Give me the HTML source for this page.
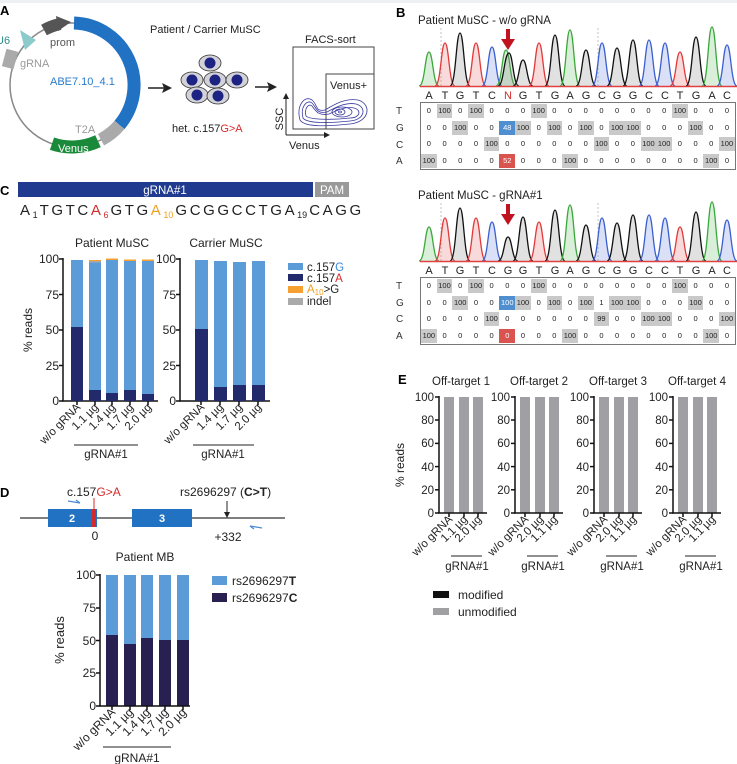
<!DOCTYPE html>
<html><head><meta charset="utf-8"><style>
body{margin:0;background:#fff;}
#w{position:relative;width:737px;height:764px;overflow:hidden;font-family:"Liberation Sans",Arial,sans-serif;background:#fff}
svg{position:absolute;left:0;top:0}
.tb{position:absolute;left:420px;width:314px;border:1px solid #777;display:grid;grid-template-columns:repeat(20,15.7px);grid-auto-rows:16.5px;font-size:7.5px;color:#222;align-items:center;justify-items:center}
.tb i{font-style:normal;width:15.7px;height:14px;line-height:14px;text-align:center}
.tb i.g{background:#c9c9c9}.tb i.b{background:#4f8fd0;color:#fff}.tb i.r{background:#d9534f;color:#fff}
</style></head><body><div id="w">
<svg width="737" height="764" viewBox="0 0 737 764" font-family="Liberation Sans, Arial, sans-serif">
<rect x="0" y="0" width="737" height="3" fill="#eef0f4"/>
<!-- Panel A -->
<text x="0" y="15" font-size="13" font-weight="bold">A</text>
<circle cx="72" cy="85" r="62" fill="none" stroke="#888" stroke-width="1.5"/>
<path d="M74 23 A62 62 0 0 1 119.5 124.9" fill="none" stroke="#2272c3" stroke-width="13"/>
<path d="M119.5 124.9 A62 62 0 0 1 101 139.7" fill="none" stroke="#aaa" stroke-width="13"/>
<path d="M98 141.2 A62 62 0 0 1 52 143.7" fill="none" stroke="#1a8a3a" stroke-width="13"/>
<text x="58" y="152" font-size="11" fill="#fff">Venus</text>
<path d="M44 30 A62 62 0 0 1 60 24" fill="none" stroke="#555" stroke-width="12"/>
<polygon points="56,16 71,22 58,31" fill="#555"/>
<polygon points="20,30 36,40 25,50" fill="#8ccacb"/>
<rect x="4" y="50" width="12" height="18" fill="#aaa" transform="rotate(15 10 59)"/>
<text x="-4" y="44" font-size="11" fill="#2a8a8a">U6</text>
<text x="50" y="46" font-size="11" fill="#555">prom</text>
<text x="20" y="67" font-size="11" fill="#999">gRNA</text>
<text x="50" y="85" font-size="11" fill="#2a7ac8">ABE7.10_4.1</text>
<text x="75" y="133" font-size="11" fill="#999">T2A</text>
<text x="150" y="33" font-size="11" fill="#222">Patient / Carrier MuSC</text>
<line x1="148" y1="88" x2="166" y2="88" stroke="#222" stroke-width="1.5"/><polygon points="172,88 162,83 164,88 162,93" fill="#222"/>
<g stroke="#333" stroke-width="0.8" fill="#d2d2d8">
<ellipse cx="210" cy="63" rx="11" ry="8"/><ellipse cx="192" cy="80" rx="11" ry="8"/><ellipse cx="215" cy="80" rx="11" ry="8"/><ellipse cx="237" cy="80" rx="11" ry="8"/><ellipse cx="197" cy="95" rx="11" ry="8"/><ellipse cx="218" cy="96" rx="11" ry="8"/></g>
<g fill="#1c2382"><circle cx="210" cy="63" r="5.5"/><circle cx="192" cy="80" r="5.5"/><circle cx="215" cy="80" r="5.5"/><circle cx="237" cy="80" r="5.5"/><circle cx="197" cy="95" r="5.5"/><circle cx="218" cy="96" r="5.5"/></g>
<text x="172" y="132" font-size="11" fill="#222">het. c.157<tspan fill="#d42a2a">G&gt;A</tspan></text>
<line x1="255" y1="87" x2="271" y2="87" stroke="#222" stroke-width="1.5"/><polygon points="277,87 267,82 269,87 267,92" fill="#222"/>
<text x="305" y="43" font-size="11" fill="#222">FACS-sort</text>
<rect x="293" y="47" width="81" height="82" fill="none" stroke="#444" stroke-width="1"/>
<rect x="326" y="74" width="48" height="55" fill="none" stroke="#444" stroke-width="1"/>
<text x="330" y="89" font-size="11" fill="#222">Venus+</text>
<g fill="none" stroke="#3a3aa0" stroke-width="0.8">
<path d="M300 120 C296 105 305 95 312 100 C318 105 315 112 325 110 C335 104 345 98 358 100 C372 104 370 122 350 124 C330 126 305 128 300 120Z"/>
<path d="M303 118 C300 107 307 99 312 103 C317 108 316 114 327 112 C336 107 346 102 356 104 C367 107 365 120 350 121 C332 123 307 124 303 118Z"/>
<path d="M306 116 C304 108 309 103 312 106 C316 111 318 116 329 114 C338 110 346 106 354 108 C362 110 360 118 350 118 C334 120 310 120 306 116Z"/>
<ellipse cx="342" cy="112" rx="10" ry="5"/><ellipse cx="340" cy="112" rx="5" ry="3"/><ellipse cx="340" cy="112" rx="1.5" ry="1"/></g>
<line x1="286" y1="135" x2="286" y2="97" stroke="#222"/><polygon points="286,93 283,99 289,99" fill="#222"/>
<line x1="286" y1="135" x2="326" y2="135" stroke="#222"/><polygon points="330,135 324,132 324,138" fill="#222"/>
<text x="283" y="119" font-size="11" fill="#222" transform="rotate(-90 283 119)" text-anchor="middle">SSC</text>
<text x="289" y="149" font-size="11" fill="#222">Venus</text>

<!-- Panel B -->
<text x="396" y="17" font-size="13" font-weight="bold">B</text>
<text x="418" y="24" font-size="11.5" fill="#222">Patient MuSC - w/o gRNA</text>
<text x="418" y="199" font-size="11.5" fill="#222">Patient MuSC - gRNA#1</text>
<g stroke="#aaa" stroke-dasharray="2,2" stroke-width="0.7"><line x1="441" y1="28" x2="441" y2="86"/><line x1="598" y1="28" x2="598" y2="86"/><line x1="441" y1="203" x2="441" y2="261"/><line x1="598" y1="203" x2="598" y2="261"/></g>
<g stroke-width="1.3">
<g id="c1">
<path d="M419 86 C425 86 425 52 429 52 C433 52 433 86 439 86" fill="#3aa83a30" stroke="#3aa83a"/>
<path d="M435 86 C441 86 441 43 445 43 C449 43 449 86 455 86" fill="#e03a3a30" stroke="#e03a3a"/>
<path d="M450 86 C456 86 456 33 460 33 C464 33 464 86 470 86" fill="#88888840" stroke="#111"/>
<path d="M466 86 C472 86 472 43 476 43 C480 43 480 86 486 86" fill="#e03a3a30" stroke="#e03a3a"/>
<path d="M482 86 C488 86 488 47 492 47 C496 47 496 86 502 86" fill="#3a5fd030" stroke="#3a5fd0"/>
<path d="M496 86 C502 86 502 50 506 50 C510 50 510 86 516 86" fill="#3aa83a30" stroke="#3aa83a"/>
<path d="M498 86 C504 86 504 53 509 53 C513 53 513 86 519 86" fill="#88888840" stroke="#111"/>
<path d="M513 86 C519 86 519 60 523 60 C527 60 527 86 533 86" fill="#88888840" stroke="#111"/>
<path d="M529 86 C535 86 535 43 539 43 C543 43 543 86 549 86" fill="#e03a3a30" stroke="#e03a3a"/>
<path d="M545 86 C551 86 551 35 555 35 C559 35 559 86 565 86" fill="#88888840" stroke="#111"/>
<path d="M560 86 C566 86 566 30 570 30 C574 30 574 86 580 86" fill="#3aa83a30" stroke="#3aa83a"/>
<path d="M576 86 C582 86 582 50 586 50 C590 50 590 86 596 86" fill="#88888840" stroke="#111"/>
<path d="M592 86 C598 86 598 43 602 43 C606 43 606 86 612 86" fill="#3a5fd030" stroke="#3a5fd0"/>
<path d="M607 86 C613 86 613 48 617 48 C621 48 621 86 627 86" fill="#88888840" stroke="#111"/>
<path d="M623 86 C629 86 629 40 633 40 C637 40 637 86 643 86" fill="#88888840" stroke="#111"/>
<path d="M639 86 C645 86 645 40 649 40 C653 40 653 86 659 86" fill="#3a5fd030" stroke="#3a5fd0"/>
<path d="M655 86 C661 86 661 43 665 43 C669 43 669 86 675 86" fill="#3a5fd030" stroke="#3a5fd0"/>
<path d="M670 86 C676 86 676 52 680 52 C684 52 684 86 690 86" fill="#e03a3a30" stroke="#e03a3a"/>
<path d="M686 86 C692 86 692 37 696 37 C700 37 700 86 706 86" fill="#88888840" stroke="#111"/>
<path d="M702 86 C708 86 708 27 712 27 C716 27 716 86 722 86" fill="#3aa83a30" stroke="#3aa83a"/>
<path d="M717 86 C723 86 723 45 727 45 C731 45 731 86 737 86" fill="#3a5fd030" stroke="#3a5fd0"/>
</g>
<g transform="translate(0,175)">
<path d="M419 86 C425 86 425 52 429 52 C433 52 433 86 439 86" fill="#3aa83a30" stroke="#3aa83a"/>
<path d="M435 86 C441 86 441 43 445 43 C449 43 449 86 455 86" fill="#e03a3a30" stroke="#e03a3a"/>
<path d="M450 86 C456 86 456 33 460 33 C464 33 464 86 470 86" fill="#88888840" stroke="#111"/>
<path d="M466 86 C472 86 472 43 476 43 C480 43 480 86 486 86" fill="#e03a3a30" stroke="#e03a3a"/>
<path d="M482 86 C488 86 488 47 492 47 C496 47 496 86 502 86" fill="#3a5fd030" stroke="#3a5fd0"/>
<path d="M498 86 C504 86 504 62 508 62 C512 62 512 86 518 86" fill="#88888840" stroke="#111"/>
<path d="M513 86 C519 86 519 42 523 42 C527 42 527 86 533 86" fill="#88888840" stroke="#111"/>
<path d="M529 86 C535 86 535 47 539 47 C543 47 543 86 549 86" fill="#e03a3a30" stroke="#e03a3a"/>
<path d="M545 86 C551 86 551 35 555 35 C559 35 559 86 565 86" fill="#88888840" stroke="#111"/>
<path d="M560 86 C566 86 566 30 570 30 C574 30 574 86 580 86" fill="#3aa83a30" stroke="#3aa83a"/>
<path d="M576 86 C582 86 582 50 586 50 C590 50 590 86 596 86" fill="#88888840" stroke="#111"/>
<path d="M592 86 C598 86 598 43 602 43 C606 43 606 86 612 86" fill="#3a5fd030" stroke="#3a5fd0"/>
<path d="M607 86 C613 86 613 48 617 48 C621 48 621 86 627 86" fill="#88888840" stroke="#111"/>
<path d="M623 86 C629 86 629 40 633 40 C637 40 637 86 643 86" fill="#88888840" stroke="#111"/>
<path d="M639 86 C645 86 645 40 649 40 C653 40 653 86 659 86" fill="#3a5fd030" stroke="#3a5fd0"/>
<path d="M655 86 C661 86 661 43 665 43 C669 43 669 86 675 86" fill="#3a5fd030" stroke="#3a5fd0"/>
<path d="M670 86 C676 86 676 52 680 52 C684 52 684 86 690 86" fill="#e03a3a30" stroke="#e03a3a"/>
<path d="M686 86 C692 86 692 37 696 37 C700 37 700 86 706 86" fill="#88888840" stroke="#111"/>
<path d="M702 86 C708 86 708 27 712 27 C716 27 716 86 722 86" fill="#3aa83a30" stroke="#3aa83a"/>
<path d="M717 86 C723 86 723 45 727 45 C731 45 731 86 737 86" fill="#3a5fd030" stroke="#3a5fd0"/>
</g></g>
<line x1="420" y1="86.5" x2="737" y2="86.5" stroke="#e04040" stroke-width="1.5"/>
<line x1="420" y1="261.5" x2="737" y2="261.5" stroke="#e04040" stroke-width="1.5"/>
<g fill="#c0121f"><rect x="506" y="29" width="4" height="12"/><polygon points="501,39 515,39 508,50"/><rect x="506" y="204" width="4" height="12"/><polygon points="501,214 515,214 508,225"/></g>
<g font-size="11" fill="#222" text-anchor="middle">
<text y="99"><tspan x="429">A</tspan><tspan x="445">T</tspan><tspan x="460">G</tspan><tspan x="476">T</tspan><tspan x="492">C</tspan><tspan x="508" fill="#d42a2a">N</tspan><tspan x="523">G</tspan><tspan x="539">T</tspan><tspan x="555">G</tspan><tspan x="570">A</tspan><tspan x="586">G</tspan><tspan x="602">C</tspan><tspan x="617">G</tspan><tspan x="633">G</tspan><tspan x="649">C</tspan><tspan x="665">C</tspan><tspan x="680">T</tspan><tspan x="696">G</tspan><tspan x="712">A</tspan><tspan x="727">C</tspan></text>
<text y="274"><tspan x="429">A</tspan><tspan x="445">T</tspan><tspan x="460">G</tspan><tspan x="476">T</tspan><tspan x="492">C</tspan><tspan x="508">G</tspan><tspan x="523">G</tspan><tspan x="539">T</tspan><tspan x="555">G</tspan><tspan x="570">A</tspan><tspan x="586">G</tspan><tspan x="602">C</tspan><tspan x="617">G</tspan><tspan x="633">G</tspan><tspan x="649">C</tspan><tspan x="665">C</tspan><tspan x="680">T</tspan><tspan x="696">G</tspan><tspan x="712">A</tspan><tspan x="727">C</tspan></text>
</g>
<g font-size="10" fill="#333"><text x="396" y="114">T</text><text x="396" y="131">G</text><text x="396" y="148">C</text><text x="396" y="164">A</text>
<text x="396" y="289">T</text><text x="396" y="306">G</text><text x="396" y="322">C</text><text x="396" y="339">A</text></g>

<!-- Panel C -->
<text x="0" y="195" font-size="13" font-weight="bold">C</text>
<rect x="18" y="182" width="295" height="15" fill="#1f3a8f"/>
<text x="165" y="194" font-size="11.5" fill="#fff" text-anchor="middle">gRNA#1</text>
<rect x="315" y="182" width="34" height="15" fill="#999"/>
<text x="332" y="194" font-size="11.5" fill="#fff" text-anchor="middle">PAM</text>
<text x="20" y="215" font-size="15" fill="#222" letter-spacing="2.6">A<tspan font-size="9" dy="3" letter-spacing="0">1</tspan><tspan dy="-3" dx="2">TGTC</tspan><tspan fill="#d42a2a">A</tspan><tspan fill="#d42a2a" font-size="9" dy="3" letter-spacing="0">6</tspan><tspan dy="-3" dx="2">GTG</tspan><tspan fill="#f0a020">A</tspan><tspan fill="#f0a020" font-size="9" dy="3" letter-spacing="0">10</tspan><tspan dy="-3" dx="2">GCGGCCTG</tspan>A<tspan font-size="9" dy="3" letter-spacing="0">19</tspan><tspan dy="-3" dx="2">CAGG</tspan></text>
<text x="112" y="247" font-size="12" fill="#222" text-anchor="middle">Patient MuSC</text>
<text x="226" y="247" font-size="12" fill="#222" text-anchor="middle">Carrier MuSC</text>
<text x="32" y="330" font-size="12" fill="#222" text-anchor="middle" transform="rotate(-90 32 330)">% reads</text>
<g font-size="12" fill="#222" text-anchor="end">
<text x="59" y="263">100</text><text x="59" y="299">75</text><text x="59" y="334">50</text><text x="59" y="370">25</text><text x="59" y="405">0</text>
<text x="176" y="263">100</text><text x="176" y="299">75</text><text x="176" y="334">50</text><text x="176" y="370">25</text><text x="176" y="405">0</text></g>
<g stroke="#111" stroke-width="1.5">
<line x1="63" y1="258" x2="63" y2="401"/><line x1="62" y1="401" x2="158" y2="401"/>
<line x1="59" y1="259" x2="63" y2="259"/><line x1="59" y1="294.5" x2="63" y2="294.5"/><line x1="59" y1="330" x2="63" y2="330"/><line x1="59" y1="365.5" x2="63" y2="365.5"/><line x1="59" y1="401" x2="63" y2="401"/>
<line x1="180" y1="258" x2="180" y2="401"/><line x1="179" y1="401" x2="270" y2="401"/>
<line x1="176" y1="259" x2="180" y2="259"/><line x1="176" y1="294.5" x2="180" y2="294.5"/><line x1="176" y1="330" x2="180" y2="330"/><line x1="176" y1="365.5" x2="180" y2="365.5"/><line x1="176" y1="401" x2="180" y2="401"/>
<line x1="77" y1="401" x2="77" y2="405"/><line x1="95" y1="401" x2="95" y2="405"/><line x1="112" y1="401" x2="112" y2="405"/><line x1="130" y1="401" x2="130" y2="405"/><line x1="148" y1="401" x2="148" y2="405"/>
<line x1="201" y1="401" x2="201" y2="405"/><line x1="220" y1="401" x2="220" y2="405"/><line x1="239" y1="401" x2="239" y2="405"/><line x1="258" y1="401" x2="258" y2="405"/>
</g>
<g fill="#5b9bd8">
<rect x="71" y="260" width="12" height="141"/><rect x="89" y="262" width="12" height="139"/><rect x="106" y="260" width="12" height="141"/><rect x="124" y="261" width="12" height="140"/><rect x="142" y="261" width="12" height="140"/>
<rect x="195" y="260" width="13" height="141"/><rect x="214" y="261" width="13" height="140"/><rect x="233" y="262" width="13" height="139"/><rect x="252" y="261" width="13" height="140"/></g>
<g fill="#f5a030"><rect x="89" y="260" width="12" height="1.5"/><rect x="106" y="258.5" width="12" height="1.5"/><rect x="124" y="259.5" width="12" height="1.5"/><rect x="142" y="259.5" width="12" height="1.5"/></g>
<rect x="89" y="261" width="12" height="1.5" fill="#aaa"/>
<g fill="#232a6b">
<rect x="71" y="327" width="12" height="74"/><rect x="89" y="390" width="12" height="11"/><rect x="106" y="393" width="12" height="8"/><rect x="124" y="390" width="12" height="11"/><rect x="142" y="394" width="12" height="7"/>
<rect x="195" y="329" width="13" height="72"/><rect x="214" y="387" width="13" height="14"/><rect x="233" y="385" width="13" height="16"/><rect x="252" y="385" width="13" height="16"/></g>
<g font-size="11.5" fill="#222" text-anchor="end">
<text transform="translate(81,408) rotate(-45)">w/o gRNA</text><text transform="translate(99,408) rotate(-45)">1.1 µg</text><text transform="translate(116,408) rotate(-45)">1.4 µg</text><text transform="translate(134,408) rotate(-45)">1.7 µg</text><text transform="translate(152,408) rotate(-45)">2.0 µg</text>
<text transform="translate(205,408) rotate(-45)">w/o gRNA</text><text transform="translate(224,408) rotate(-45)">1.4 µg</text><text transform="translate(243,408) rotate(-45)">1.7 µg</text><text transform="translate(262,408) rotate(-45)">2.0 µg</text></g>
<line x1="74" y1="445" x2="138" y2="445" stroke="#222" stroke-width="1"/>
<line x1="193" y1="445" x2="254" y2="445" stroke="#222" stroke-width="1"/>
<text x="106" y="458" font-size="11.5" fill="#222" text-anchor="middle">gRNA#1</text>
<text x="223" y="458" font-size="11.5" fill="#222" text-anchor="middle">gRNA#1</text>
<rect x="288" y="263" width="15" height="7" fill="#5b9bd8"/><rect x="288" y="274" width="15" height="7" fill="#232a6b"/><rect x="288" y="286" width="15" height="7" fill="#f5a030"/><rect x="288" y="298" width="15" height="7" fill="#aaa"/>
<g font-size="11.5" fill="#222"><text x="307" y="271">c.157<tspan fill="#3a8ad8">G</tspan></text><text x="307" y="282">c.157<tspan fill="#d42a2a">A</tspan></text><text x="307" y="293"><tspan fill="#f0a020">A<tspan font-size="8" dy="2">10</tspan></tspan><tspan dy="-2">&gt;G</tspan></text><text x="307" y="305">indel</text></g>

<!-- Panel D -->
<text x="0" y="497" font-size="13" font-weight="bold">D</text>
<line x1="20" y1="518" x2="285" y2="518" stroke="#333" stroke-width="1.3"/>
<rect x="48" y="509" width="49" height="18" fill="#2272c3"/><rect x="92" y="509" width="4" height="18" fill="#d42a2a"/>
<line x1="94" y1="498" x2="94" y2="509" stroke="#d42a2a" stroke-width="1"/>
<rect x="132" y="509" width="60" height="18" fill="#2272c3"/>
<text x="72" y="522" font-size="11" fill="#fff" font-weight="bold" text-anchor="middle">2</text>
<text x="162" y="522" font-size="11" fill="#fff" font-weight="bold" text-anchor="middle">3</text>
<line x1="227" y1="501" x2="227" y2="514" stroke="#222"/><polygon points="227,518 224,512 230,512" fill="#222"/>
<path d="M68 501 L80 503" stroke="#4a8ad0" stroke-width="1.2" fill="none"/><path d="M76 500 L80 503" stroke="#4a8ad0" stroke-width="1.2" fill="none"/>
<path d="M250 526 L262 528" stroke="#4a8ad0" stroke-width="1.2" fill="none"/><path d="M250 526 L254 529" stroke="#4a8ad0" stroke-width="1.2" fill="none"/>
<text x="67" y="496" font-size="12" fill="#222">c.157<tspan fill="#d42a2a">G&gt;A</tspan></text>
<text x="180" y="496" font-size="12" fill="#222">rs2696297 (<tspan font-weight="bold">C&gt;T</tspan>)</text>
<text x="95" y="540" font-size="12" fill="#222" text-anchor="middle">0</text>
<text x="228" y="541" font-size="12" fill="#222" text-anchor="middle">+332</text>
<text x="145" y="561" font-size="12" fill="#222" text-anchor="middle">Patient MB</text>
<text x="64" y="640" font-size="13" fill="#222" text-anchor="middle" transform="rotate(-90 64 640)">% reads</text>
<g font-size="12" fill="#222" text-anchor="end"><text x="96" y="579">100</text><text x="96" y="612">75</text><text x="96" y="645">50</text><text x="96" y="677">25</text><text x="96" y="710">0</text></g>
<g fill="#5b9bd8"><rect x="106" y="575" width="12" height="131"/><rect x="124" y="575" width="12" height="131"/><rect x="141" y="575" width="12" height="131"/><rect x="159" y="575" width="12" height="131"/><rect x="177" y="575" width="12" height="131"/></g>
<g fill="#272050"><rect x="106" y="635" width="12" height="71"/><rect x="124" y="644" width="12" height="62"/><rect x="141" y="638" width="12" height="68"/><rect x="159" y="640" width="12" height="66"/><rect x="177" y="640" width="12" height="66"/></g>
<g stroke="#111" stroke-width="1.5"><line x1="100" y1="574" x2="100" y2="706"/><line x1="99" y1="706" x2="190" y2="706"/>
<line x1="96" y1="575" x2="100" y2="575"/><line x1="96" y1="608" x2="100" y2="608"/><line x1="96" y1="640.5" x2="100" y2="640.5"/><line x1="96" y1="673" x2="100" y2="673"/><line x1="96" y1="706" x2="100" y2="706"/>
<line x1="112" y1="706" x2="112" y2="710"/><line x1="130" y1="706" x2="130" y2="710"/><line x1="147" y1="706" x2="147" y2="710"/><line x1="165" y1="706" x2="165" y2="710"/><line x1="183" y1="706" x2="183" y2="710"/></g>
<g font-size="12" fill="#222" text-anchor="end">
<text transform="translate(116,713) rotate(-45)">w/o gRNA</text><text transform="translate(134,713) rotate(-45)">1.1 µg</text><text transform="translate(151,713) rotate(-45)">1.4 µg</text><text transform="translate(169,713) rotate(-45)">1.7 µg</text><text transform="translate(187,713) rotate(-45)">2.0 µg</text></g>
<line x1="103" y1="747" x2="171" y2="747" stroke="#222"/>
<text x="137" y="762" font-size="12" fill="#222" text-anchor="middle">gRNA#1</text>
<rect x="212" y="576" width="15" height="9" fill="#5b9bd8"/><rect x="212" y="593" width="15" height="9" fill="#272050"/>
<text x="232" y="585" font-size="12" fill="#222">rs2696297<tspan font-weight="bold">T</tspan></text>
<text x="232" y="602" font-size="12" fill="#222">rs2696297<tspan font-weight="bold">C</tspan></text>

<!-- Panel E -->
<text x="398" y="384" font-size="13" font-weight="bold">E</text>
<g font-size="11.5" fill="#222" text-anchor="middle"><text x="461" y="385">Off-target 1</text><text x="539" y="385">Off-target 2</text><text x="618" y="385">Off-target 3</text><text x="697" y="385">Off-target 4</text></g>
<text x="404" y="465" font-size="12" fill="#222" text-anchor="middle" transform="rotate(-90 404 465)">% reads</text>
<g id="e1">
<g fill="#a0a0a4"><rect x="444" y="397" width="10" height="116"/><rect x="459" y="397" width="10" height="116"/><rect x="473" y="397" width="10" height="116"/></g>
<g stroke="#111" stroke-width="1.5"><line x1="439" y1="396" x2="439" y2="513"/><line x1="438" y1="513" x2="487" y2="513"/>
<line x1="435" y1="397" x2="439" y2="397"/><line x1="435" y1="420" x2="439" y2="420"/><line x1="435" y1="443.4" x2="439" y2="443.4"/><line x1="435" y1="466.6" x2="439" y2="466.6"/><line x1="435" y1="489.8" x2="439" y2="489.8"/><line x1="435" y1="513" x2="439" y2="513"/>
<line x1="449" y1="513" x2="449" y2="517"/><line x1="464" y1="513" x2="464" y2="517"/><line x1="478" y1="513" x2="478" y2="517"/></g>
<g font-size="11.5" fill="#222" text-anchor="end"><text x="434" y="401">100</text><text x="434" y="424">80</text><text x="434" y="447">60</text><text x="434" y="471">40</text><text x="434" y="494">20</text><text x="434" y="517">0</text></g>
<line x1="451" y1="556" x2="482" y2="556" stroke="#222"/>
<text x="467" y="570" font-size="11.5" fill="#222" text-anchor="middle">gRNA#1</text>
</g>
<use href="#e1" x="76"/><use href="#e1" x="155"/><use href="#e1" x="234"/>
<g font-size="11.5" fill="#222" text-anchor="end">
<text transform="translate(453,520) rotate(-45)">w/o gRNA</text><text transform="translate(468,520) rotate(-45)">1.1 µg</text><text transform="translate(482,520) rotate(-45)">2.0 µg</text>
<text transform="translate(529,520) rotate(-45)">w/o gRNA</text><text transform="translate(544,520) rotate(-45)">2.0 µg</text><text transform="translate(558,520) rotate(-45)">1.1 µg</text>
<text transform="translate(608,520) rotate(-45)">w/o gRNA</text><text transform="translate(623,520) rotate(-45)">2.0 µg</text><text transform="translate(637,520) rotate(-45)">1.1 µg</text>
<text transform="translate(687,520) rotate(-45)">w/o gRNA</text><text transform="translate(702,520) rotate(-45)">2.0 µg</text><text transform="translate(716,520) rotate(-45)">1.1 µg</text></g>
<rect x="433" y="591" width="16" height="7" fill="#111"/><rect x="433" y="608" width="16" height="7" fill="#a0a0a4"/>
<text x="458" y="599" font-size="12" fill="#222">modified</text>
<text x="458" y="616" font-size="12" fill="#222">unmodified</text>
</svg>

<div class="tb" style="top:102px">
<i>0</i><i class=g>100</i><i>0</i><i class=g>100</i><i>0</i><i>0</i><i>0</i><i class=g>100</i><i>0</i><i>0</i><i>0</i><i>0</i><i>0</i><i>0</i><i>0</i><i>0</i><i class=g>100</i><i>0</i><i>0</i><i>0</i>
<i>0</i><i>0</i><i class=g>100</i><i>0</i><i>0</i><i class=b>48</i><i class=g>100</i><i>0</i><i class=g>100</i><i>0</i><i class=g>100</i><i>0</i><i class=g>100</i><i class=g>100</i><i>0</i><i>0</i><i>0</i><i class=g>100</i><i>0</i><i>0</i>
<i>0</i><i>0</i><i>0</i><i>0</i><i class=g>100</i><i>0</i><i>0</i><i>0</i><i>0</i><i>0</i><i>0</i><i class=g>100</i><i>0</i><i>0</i><i class=g>100</i><i class=g>100</i><i>0</i><i>0</i><i>0</i><i class=g>100</i>
<i class=g>100</i><i>0</i><i>0</i><i>0</i><i>0</i><i class=r>52</i><i>0</i><i>0</i><i>0</i><i class=g>100</i><i>0</i><i>0</i><i>0</i><i>0</i><i>0</i><i>0</i><i>0</i><i>0</i><i class=g>100</i><i>0</i>
</div>
<div class="tb" style="top:277px">
<i>0</i><i class=g>100</i><i>0</i><i class=g>100</i><i>0</i><i>0</i><i>0</i><i class=g>100</i><i>0</i><i>0</i><i>0</i><i>0</i><i>0</i><i>0</i><i>0</i><i>0</i><i class=g>100</i><i>0</i><i>0</i><i>0</i>
<i>0</i><i>0</i><i class=g>100</i><i>0</i><i>0</i><i class=b>100</i><i class=g>100</i><i>0</i><i class=g>100</i><i>0</i><i class=g>100</i><i>1</i><i class=g>100</i><i class=g>100</i><i>0</i><i>0</i><i>0</i><i class=g>100</i><i>0</i><i>0</i>
<i>0</i><i>0</i><i>0</i><i>0</i><i class=g>100</i><i>0</i><i>0</i><i>0</i><i>0</i><i>0</i><i>0</i><i class=g>99</i><i>0</i><i>0</i><i class=g>100</i><i class=g>100</i><i>0</i><i>0</i><i>0</i><i class=g>100</i>
<i class=g>100</i><i>0</i><i>0</i><i>0</i><i>0</i><i class=r>0</i><i>0</i><i>0</i><i>0</i><i class=g>100</i><i>0</i><i>0</i><i>0</i><i>0</i><i>0</i><i>0</i><i>0</i><i>0</i><i class=g>100</i><i>0</i>
</div>
</div></body></html>
